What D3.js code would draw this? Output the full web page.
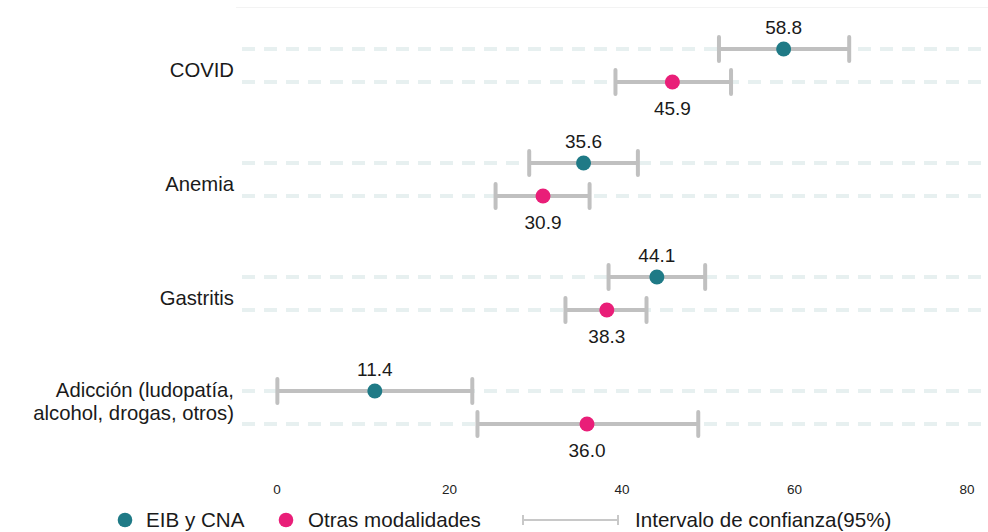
<!DOCTYPE html>
<html>
<head>
<meta charset="utf-8">
<script src="https://cdn.jsdelivr.net/npm/d3@7"></script>
<style>
  html, body { margin: 0; padding: 0; background: #fff; }
  svg { display: block; font-family: "Liberation Sans", Arial, Helvetica, sans-serif; }
</style>
</head>
<body>
<svg id="chart" width="988" height="532"></svg>
<script>
// Enfermedades y porcentajes por modalidad, con intervalos de confianza al 95%
const categories = ["COVID", "Anemia", "Gastritis", "Adicción (ludopatía,\nalcohol, drogas, otros)"];
const groups = ["EIB y CNA", "Otras modalidades"];
const eibValues = [58.8, 35.6, 44.1, 11.4];
const eibLower  = [51.3, 29.3, 38.5, 0.1];
const eibUpper  = [66.4, 41.9, 49.7, 22.7];
const otrasValues = [45.9, 30.9, 38.3, 36.0];
const otrasLower  = [39.3, 25.4, 33.5, 23.3];
const otrasUpper  = [52.7, 36.3, 42.9, 48.9];
const xTicks = [0, 20, 40, 60, 80];
const ciLegendLabel = "Intervalo de confianza(95%)";

const colors = { "EIB y CNA": "#1f7a86", "Otras modalidades": "#e91e78" };
const ciColor = "#c0c0c0";
const gridColor = "#e7f0f0";

const rows = [];
categories.forEach((c, i) => {
  rows.push({ cat: c, group: groups[0], value: eibValues[i], lo: eibLower[i], hi: eibUpper[i] });
  rows.push({ cat: c, group: groups[1], value: otrasValues[i], lo: otrasLower[i], hi: otrasUpper[i] });
});

const svg = d3.select("#chart");
const panel = { left: 242, right: 1001 };

const x = d3.scaleLinear().domain([-4, 84]).range([panel.left, panel.right]);
const yCat = d3.scaleBand().domain(categories).range([8.5, 464.5]).paddingInner(0).paddingOuter(0);
const yGroup = d3.scalePoint().domain(groups).range([-16.5, 16.5]);
const catCenter = c => yCat(c) + yCat.bandwidth() / 2;
const yPos = d => catCenter(d.cat) + yGroup(d.group);

// faint top rule
svg.append("line")
  .attr("x1", 236).attr("x2", 988).attr("y1", 7.5).attr("y2", 7.5)
  .attr("stroke", "#f3f3f3").attr("stroke-width", 1);

const clip = svg.append("defs").append("clipPath").attr("id", "panel-clip");
clip.append("rect").attr("x", panel.left).attr("y", 0).attr("width", 988 - panel.left).attr("height", 480);

const plot = svg.append("g").attr("clip-path", "url(#panel-clip)");

// dashed guide lines, one per group row
plot.selectAll("line.grid")
  .data(rows)
  .join("line")
  .attr("class", "grid")
  .attr("x1", panel.left).attr("x2", panel.right)
  .attr("y1", d => yPos(d)).attr("y2", d => yPos(d))
  .attr("stroke", gridColor)
  .attr("stroke-width", 4)
  .attr("stroke-dasharray", "13,9");

// confidence intervals
const ci = plot.selectAll("g.ci").data(rows).join("g").attr("class", "ci");
ci.append("line")
  .attr("x1", d => x(d.lo)).attr("x2", d => x(d.hi))
  .attr("y1", d => yPos(d)).attr("y2", d => yPos(d))
  .attr("stroke", ciColor).attr("stroke-width", 4);
ci.selectAll("line.cap")
  .data(d => [{ v: d.lo, y: yPos(d) }, { v: d.hi, y: yPos(d) }])
  .join("line")
  .attr("class", "cap")
  .attr("x1", c => x(c.v)).attr("x2", c => x(c.v))
  .attr("y1", c => c.y - 12).attr("y2", c => c.y + 12)
  .attr("stroke", ciColor).attr("stroke-width", 4).attr("stroke-linecap", "round");

// points
plot.selectAll("circle.pt")
  .data(rows)
  .join("circle")
  .attr("class", "pt")
  .attr("cx", d => x(d.value))
  .attr("cy", d => yPos(d))
  .attr("r", 7.5)
  .attr("fill", d => colors[d.group]);

// value labels: above for EIB, below for other modalities
svg.selectAll("text.val")
  .data(rows)
  .join("text")
  .attr("class", "val")
  .attr("x", d => x(d.value))
  .attr("y", d => d.group === groups[0] ? yPos(d) - 15.5 : yPos(d) + 33)
  .attr("text-anchor", "middle")
  .attr("font-size", 19)
  .attr("fill", "#1a1a1a")
  .text(d => d.value.toFixed(1));

// category labels
const catLabels = svg.selectAll("text.cat")
  .data(categories)
  .join("text")
  .attr("class", "cat")
  .attr("text-anchor", "end")
  .attr("font-size", 20.3)
  .attr("fill", "#1a1a1a");
catLabels.each(function (c) {
  const lines = c.split("\n");
  const cy = catCenter(c);
  const lh = 22.5;
  const start = lines.length === 1 ? cy + 11.5 : cy - 10.5;
  lines.forEach((ln, i) => {
    d3.select(this).append("tspan")
      .attr("x", 234)
      .attr("y", start + i * lh)
      .text(ln);
  });
});

// x axis (tick labels only)
const xAxis = d3.axisBottom(x).tickValues(xTicks).tickSize(0).tickPadding(0);
const axisG = svg.append("g").attr("transform", "translate(0,484)").call(xAxis);
axisG.select(".domain").remove();
axisG.selectAll("text")
  .attr("font-size", 13.5)
  .attr("fill", "#222")
  .attr("font-family", "\"Liberation Sans\", Arial, sans-serif");

// legend
const legend = svg.append("g").attr("font-size", 20.6).attr("fill", "#1a1a1a");
const legendItems = [
  { label: groups[0], cx: 125, tx: 146 },
  { label: groups[1], cx: 286, tx: 308 }
];
legendItems.forEach(it => {
  legend.append("circle").attr("cx", it.cx).attr("cy", 520).attr("r", 7.3).attr("fill", colors[it.label]);
  legend.append("text").attr("x", it.tx).attr("y", 527).text(it.label);
});
legend.append("line").attr("x1", 523).attr("x2", 618).attr("y1", 520).attr("y2", 520)
  .attr("stroke", "#c8c8c8").attr("stroke-width", 2);
[523, 618].forEach(px => {
  legend.append("line").attr("x1", px).attr("x2", px).attr("y1", 515).attr("y2", 525)
    .attr("stroke", "#c8c8c8").attr("stroke-width", 2);
});
legend.append("text").attr("x", 635).attr("y", 527).text(ciLegendLabel);
</script>
</body>
</html>
